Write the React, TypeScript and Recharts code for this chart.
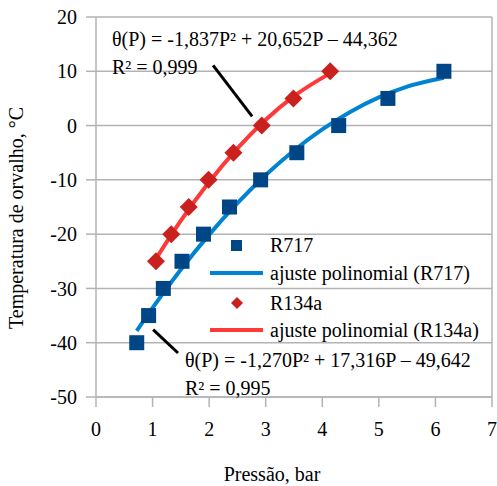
import { ComposedChart, Scatter, Line, XAxis, YAxis, CartesianGrid, ReferenceLine } from 'recharts'

// pressão (bar) x temperatura de orvalho (°C)
const r717Pressure = [0.72, 0.93, 1.19, 1.52, 1.9, 2.36, 2.91, 3.55, 4.29, 5.16, 6.15]
const r717Temp = [-40, -35, -30, -25, -20, -15, -10, -5, 0, 5, 10]
const r134aPressure = [1.06, 1.33, 1.64, 1.99, 2.43, 2.93, 3.49, 4.14]
const r134aTemp = [-25, -20, -15, -10, -5, 0, 5, 10]

// linhas de tendência
const r717FitP = [0.72, 1.0, 1.5, 2.0, 2.5, 3.0, 3.5, 4.0, 4.5, 5.0, 5.5, 6.15]
const r717FitT = [-37.83, -33.6, -26.53, -20.09, -14.29, -9.12, -4.59, -0.7, 2.56, 5.19, 7.18, 8.82]
const r134aFitP = [1.07, 1.5, 2.0, 2.5, 3.0, 3.5, 4.15]
const r134aFitT = [-24.37, -17.52, -10.41, -4.21, 1.06, 5.42, 9.71]

const xTicks = [0, 1, 2, 3, 4, 5, 6, 7]
const yTicks = [-50, -40, -30, -20, -10, 0, 10, 20]

const zip = (p: number[], t: number[]) => p.map((v, i) => ({ p: v, t: t[i] }))
const r717Data = zip(r717Pressure, r717Temp)
const r134aData = zip(r134aPressure, r134aTemp)
const r717Fit = zip(r717FitP, r717FitT)
const r134aFit = zip(r134aFitP, r134aFitT)

const FONT = "'Liberation Serif', serif"
const GRID = '#b3b3b3'
const BLUE_DOT = '#004586'
const BLUE_LINE = '#0084d1'
const RED_DOT = '#c9211e'
const RED_LINE = '#ff3838'

const Square = (props: any) => (
  <rect x={props.cx - 7.5} y={props.cy - 7.5} width={15} height={15} fill={BLUE_DOT} />
)
const Diamond = (props: any) => {
  const { cx, cy } = props
  const r = 9
  return <path d={`M${cx},${cy - r}L${cx + r},${cy}L${cx},${cy + r}L${cx - r},${cy}Z`} fill={RED_DOT} />
}

export default function App() {
  const tickStyle = { fill: '#000', fontSize: 20 }
  return (
    <div style={{ position: 'absolute', left: 0, top: 0, width: 497, height: 486, background: '#fff', fontFamily: FONT }}>
      <style>{`svg text { font-family: 'Liberation Serif', serif !important; }`}</style>
      <ComposedChart width={497} height={486} margin={{ top: 17, right: 5, left: 0, bottom: 0 }}>
        <CartesianGrid vertical={false} stroke={GRID} strokeWidth={1.5} />
        <XAxis
          type="number"
          dataKey="p"
          domain={[0, 7]}
          ticks={xTicks}
          height={89}
          tickSize={10}
          tickMargin={15}
          stroke={GRID}
          strokeWidth={1.5}
          tick={tickStyle}
          allowDataOverflow
        />
        <YAxis
          type="number"
          dataKey="t"
          domain={[-50, 20]}
          ticks={yTicks}
          width={96}
          tickSize={10}
          tickMargin={9}
          stroke={GRID}
          strokeWidth={1.5}
          tick={tickStyle}
          allowDataOverflow
        />
        <ReferenceLine x={7} stroke={GRID} strokeWidth={1.5} />
        <ReferenceLine segment={[{ x: 2.07, y: 11.1 }, { x: 2.76, y: 1.7 }]} stroke="#000" strokeWidth={3} />
        <ReferenceLine segment={[{ x: 1.01, y: -37.6 }, { x: 1.45, y: -41.9 }]} stroke="#000" strokeWidth={3} />
        <Scatter name="R717" data={r717Data} shape={Square} isAnimationActive={false} />
        <Scatter name="R134a" data={r134aData} shape={Diamond} isAnimationActive={false} />
        <Line name="ajuste polinomial (R717)" data={r717Fit} dataKey="t" type="monotone" stroke={BLUE_LINE} strokeWidth={4} dot={false} isAnimationActive={false} />
        <Line name="ajuste polinomial (R134a)" data={r134aFit} dataKey="t" type="monotone" stroke={RED_LINE} strokeWidth={4} dot={false} isAnimationActive={false} />
      </ComposedChart>
      <svg width={497} height={486} style={{ position: 'absolute', left: 0, top: 0, pointerEvents: 'none' }} fontSize={20}>
        <text x={112} y={46}>θ(P) = -1,837P² + 20,652P – 44,362</text>
        <text x={112} y={74}>R² = 0,999</text>
        <text x={185} y={367}>θ(P) = -1,270P² + 17,316P – 49,642</text>
        <text x={185} y={395}>R² = 0,995</text>
        <text x={272} y={481} textAnchor="middle">Pressão, bar</text>
        <text transform="translate(23,218) rotate(-90)" textAnchor="middle">Temperatura de orvalho, °C</text>
        <g>
          <rect x={231} y={240} width={11} height={11} fill={BLUE_DOT} />
          <text x={270} y={252}>R717</text>
          <line x1={210} x2={263} y1={273} y2={273} stroke={BLUE_LINE} strokeWidth={4} />
          <text x={270} y={280}>ajuste polinomial (R717)</text>
          <path d="M237,297L243,303L237,309L231,303Z" fill={RED_DOT} />
          <text x={270} y={310}>R134a</text>
          <line x1={210} x2={263} y1={330} y2={330} stroke={RED_LINE} strokeWidth={4} />
          <text x={270} y={337}>ajuste polinomial (R134a)</text>
        </g>
      </svg>
    </div>
  )
}
